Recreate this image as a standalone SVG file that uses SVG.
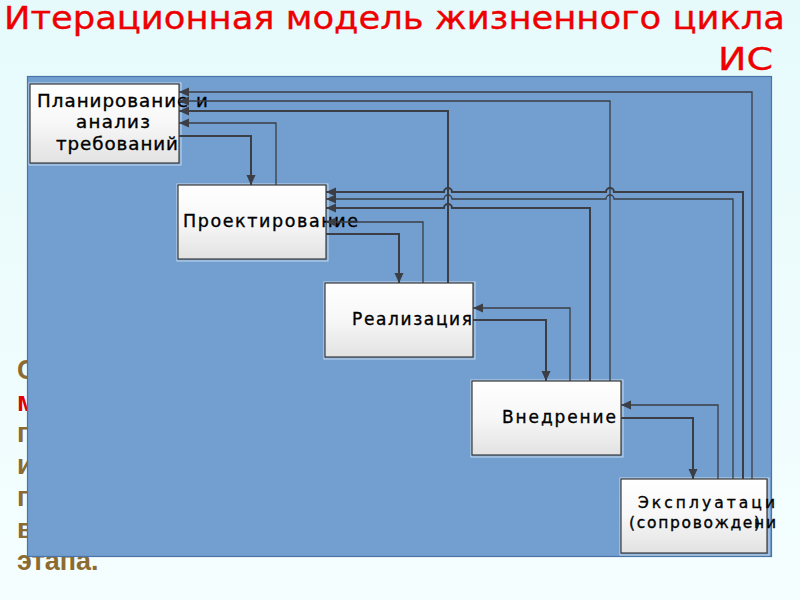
<svg xmlns="http://www.w3.org/2000/svg" width="800" height="600" viewBox="0 0 800 600">
<defs>
<linearGradient id="bg" x1="0" y1="0" x2="0" y2="1">
<stop offset="0" stop-color="#e6fafc"/>
<stop offset="1" stop-color="#f5fefe"/>
</linearGradient>
<linearGradient id="box" x1="0" y1="0" x2="0" y2="1">
<stop offset="0" stop-color="#ffffff"/>
<stop offset="0.5" stop-color="#f7f7f7"/>
<stop offset="1" stop-color="#e2e2e2"/>
</linearGradient>
<marker id="ah" markerUnits="userSpaceOnUse" markerWidth="11" markerHeight="10" refX="10" refY="4.5" orient="auto">
<path d="M0,0 L10,4.5 L0,9 Z" fill="#3b3e44"/>
</marker>
<style>
.title{font-family:"DejaVu Sans",sans-serif;font-stretch:condensed;font-size:32px;fill:#ee0000;stroke:#ee0000;stroke-width:0.3}
.bt{font-family:"Liberation Sans",Arial,sans-serif;font-weight:bold;font-size:27px;fill:#8c6b32}
.node rect.b{fill:url(#box);stroke:#3a3a3a;stroke-width:1.2}
.node rect.h{fill:none;stroke:#ffffff;stroke-opacity:0.6;stroke-width:1}
.lbl{font-family:"DejaVu Sans",sans-serif;font-size:17px;fill:#000;stroke:#000;stroke-width:0.35}
.l1{font-size:18.3px}
.l2{font-size:17.5px}
.sm{font-size:15.5px}
.con path{fill:none;stroke:#3b3e44;marker-end:url(#ah)}
.t1{stroke-width:1.3}
.t2{stroke-width:2}
</style>
</defs>
<rect width="800" height="600" fill="url(#bg)"/>
<text class="title" x="4" y="28.5" textLength="781" lengthAdjust="spacingAndGlyphs">Итерационная модель жизненного цикла</text>
<text class="title" x="718" y="70" textLength="55" lengthAdjust="spacingAndGlyphs">ИС</text>
<g id="background-text">
<text class="bt" x="17" y="379">С</text>
<text class="bt" x="17" y="411" style="fill:#e00000">м</text>
<text class="bt" x="17" y="442">п</text>
<text class="bt" x="17" y="474">и</text>
<text class="bt" x="17" y="506">п</text>
<text class="bt" x="17" y="538">в</text>
<text class="bt" x="17" y="570">этапа.</text>
</g>
<rect id="panel" x="27.5" y="76.5" width="744" height="480" fill="#729fcf" stroke="#4a74a8" stroke-width="1.2"/>
<g id="n1" class="node">
<rect class="h" x="29" y="83" width="152" height="82"/>
<rect class="b" x="30" y="84" width="149" height="79"/>
<text class="lbl l1" x="37" y="106.5" textLength="171" lengthAdjust="spacing">Планирование и</text>
<text class="lbl l1" x="76" y="128" textLength="74" lengthAdjust="spacing">анализ</text>
<text class="lbl l1" x="56" y="150" textLength="122" lengthAdjust="spacing">требований</text>
</g>
<g id="n2" class="node">
<rect class="h" x="177" y="184" width="151" height="77"/>
<rect class="b" x="178" y="185" width="148" height="74"/>
<text class="lbl l2" x="183" y="227" textLength="175" lengthAdjust="spacing">Проектирование</text>
</g>
<g id="n3" class="node">
<rect class="h" x="324" y="282" width="151" height="77"/>
<rect class="b" x="325" y="283" width="148" height="74"/>
<text class="lbl" x="352" y="324.5" textLength="120" lengthAdjust="spacing">Реализация</text>
</g>
<g id="n4" class="node">
<rect class="h" x="471" y="380" width="152" height="77"/>
<rect class="b" x="472" y="381" width="149" height="74"/>
<text class="lbl" x="502" y="423" textLength="114" lengthAdjust="spacing">Внедрение</text>
</g>
<g id="n5" class="node">
<rect class="h" x="620" y="478" width="149" height="77"/>
<rect class="b" x="621" y="479" width="146" height="74"/>
<text class="lbl sm" x="638" y="508" textLength="137" lengthAdjust="spacing">Эксплуатаци</text>
<text class="lbl sm" x="629" y="528" textLength="147" lengthAdjust="spacing">(сопровождени</text>
<text class="lbl sm" x="754" y="528">)</text>
</g>
<g id="connectors" class="con">
<path class="t2" d="M179,136 H251 V185"/>
<path class="t1" d="M276,185 V123 H179"/>
<path class="t2" d="M448,283 V111 H179"/>
<path class="t1" d="M610,381 V101 H179"/>
<path class="t1" d="M752,479 V92 H179"/>
<path class="t2" d="M326,234 H399 V283"/>
<path class="t1" d="M423,283 V222 H326"/>
<path class="t2" d="M590,381 V208 H452 A4,4 0 0 0 444,208 H326"/>
<path class="t1" d="M733,479 V199 H614 A4,4 0 0 0 606,199 H452 A4,4 0 0 0 444,199 H326"/>
<path class="t2" d="M743,479 V192 H614 A4,4 0 0 0 606,192 H452 A4,4 0 0 0 444,192 H326"/>
<path class="t1" d="M570,381 V308 H473"/>
<path class="t2" d="M473,320 H546 V381"/>
<path class="t2" d="M621,418 H693 V479"/>
<path class="t1" d="M718,479 V405 H621"/>
</g>
</svg>
